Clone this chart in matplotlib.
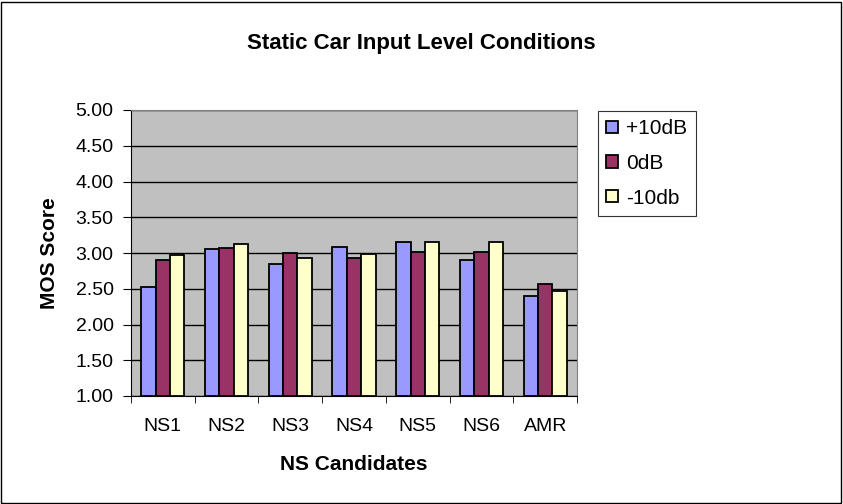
import numpy as np
import matplotlib.pyplot as plt
from matplotlib.patches import Rectangle

plt.rcParams['font.family'] = ['Liberation Sans', 'DejaVu Sans']

categories = ["NS1", "NS2", "NS3", "NS4", "NS5", "NS6", "AMR"]
plus10 = [2.53, 3.05, 2.85, 3.09, 3.16, 2.90, 2.40]
zero = [2.90, 3.07, 3.00, 2.93, 3.02, 3.02, 2.57]
minus10 = [2.97, 3.12, 2.93, 2.98, 3.16, 3.16, 2.47]
series = [("+10dB", plus10, "#9999FF"),
          ("0dB", zero, "#993366"),
          ("-10db", minus10, "#FFFFCC")]

fig = plt.figure(figsize=(8.43, 5.04), dpi=100)
fig.patches.append(Rectangle((0.001, 0.002), 0.997, 0.995, transform=fig.transFigure,
                             fill=False, edgecolor="black", lw=1))
ax = fig.add_axes([131 / 843, 108 / 504, 446 / 843, 286 / 504])
ax.set_facecolor("#C0C0C0")

x = np.arange(len(categories))
w = 0.226
for i, (lab, vals, c) in enumerate(series):
    ax.bar(x + (i - 1) * w, np.array(vals) - 1.0, w, bottom=1.0, color=c,
           edgecolor="black", lw=1.3, label=lab, zorder=3)

ax.set_ylim(1, 5)
ax.set_xlim(-0.5, len(categories) - 0.5)
ax.set_yticks(np.arange(1, 5.01, 0.5))
ax.set_yticklabels([f"{v:.2f}" for v in np.arange(1, 5.01, 0.5)], fontsize=14)
ax.yaxis.grid(True, color="black", lw=1, zorder=1)
ax.set_axisbelow(True)
ax.set_xticks(x)
ax.set_xticklabels(categories, fontsize=14)
ax.set_xticks(np.arange(-0.5, len(categories)), minor=True)
ax.tick_params(axis="x", which="major", length=0, pad=16)
ax.tick_params(axis="x", which="minor", length=5, direction="out")
ax.tick_params(axis="y", length=5.5, direction="out", pad=7)
for s in ["top", "right"]:
    ax.spines[s].set_color("#808080")
for s in ["left", "bottom"]:
    ax.spines[s].set_color("black")

ax.set_xlabel("NS Candidates", fontsize=15, fontweight="bold", labelpad=14)
ax.set_ylabel("MOS Score", fontsize=15, fontweight="bold", labelpad=12)
fig.text(0.5, 1 - 43 / 504, "Static Car Input Level Conditions", ha="center",
         va="center", fontsize=16, fontweight="bold")

leg = ax.legend(loc="upper left", bbox_to_anchor=(598 / 843, 1 - 111 / 504),
                bbox_transform=fig.transFigure, fontsize=15, frameon=True,
                fancybox=False, edgecolor="black", handlelength=0.55,
                handleheight=0.55, handletextpad=0.4, labelspacing=0.75,
                borderpad=0.4, borderaxespad=0)
leg.get_frame().set_linewidth(0.8)

fig.savefig("out.png", dpi=100)
